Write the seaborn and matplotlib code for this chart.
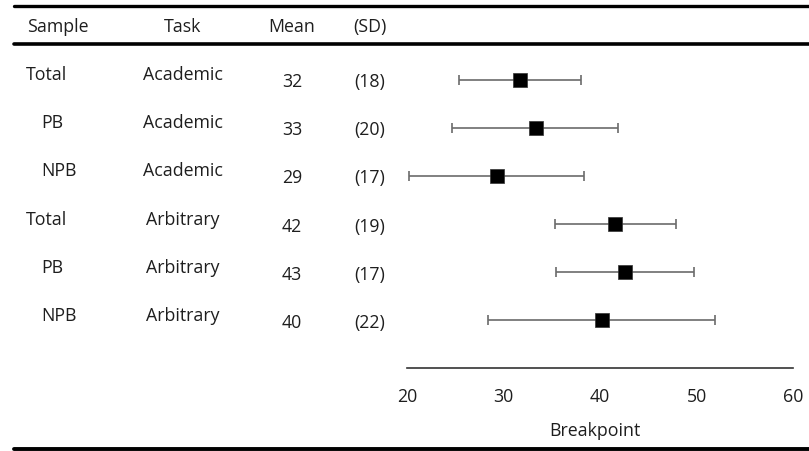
import matplotlib
matplotlib.use("Agg")
import matplotlib.pyplot as plt
import seaborn as sns
import pandas as pd
from matplotlib.lines import Line2D

# Breakpoint estimates per sample and task
samples = ["Total", "PB", "NPB", "Total", "PB", "NPB"]
tasks = ["Academic", "Academic", "Academic", "Arbitrary", "Arbitrary", "Arbitrary"]
means = [31.74, 33.34, 29.30, 41.59, 42.56, 40.18]
sds = [18, 20, 17, 19, 17, 22]
ci_low = [25.42, 24.69, 20.18, 35.30, 35.44, 28.36]
ci_high = [38.00, 41.90, 38.34, 47.88, 49.71, 51.89]
x_ticks = [20, 30, 40, 50, 60]

df = pd.DataFrame({
    "row": range(len(samples)),
    "sample": samples,
    "task": tasks,
    "mean": means,
    "sd": sds,
    "lo": ci_low,
    "hi": ci_high,
})

sns.set_theme(style="white")
plt.rcParams["font.family"] = ["Open Sans", "DejaVu Sans"]

FS = 12.8
TXT = "#1e1e1e"
W, H = 809, 452
fig = plt.figure(figsize=(W / 100, H / 100), dpi=100)


def fx(x):
    return x / W


def fy(y):
    return 1 - y / H


# Forest panel
ax = fig.add_axes([fx(407), fy(369), fx(793) - fx(407), fy(57) - fy(369)])
ax.hlines(df["row"], df["lo"], df["hi"], color="#6b6b6b", lw=1.2, zorder=1)
ax.scatter(df["lo"], df["row"], marker="|", s=45, color="#6b6b6b", lw=1.2, zorder=1)
ax.scatter(df["hi"], df["row"], marker="|", s=45, color="#6b6b6b", lw=1.2, zorder=1)
sns.scatterplot(data=df, x="mean", y="row", marker="s", s=100, color="black",
                edgecolor="#333333", linewidth=0.5, ax=ax, zorder=3, legend=False)
ax.set_xlim(20, 60)
ax.set_ylim(6.0, -0.5)
ax.set_xticks(x_ticks)
ax.set_xticklabels([str(t) for t in x_ticks], fontsize=FS, color=TXT)
ax.set_yticks([])
ax.set_xlabel("")
ax.set_ylabel("")
ax.tick_params(axis="x", length=0, pad=14)
for side in ["top", "right", "left"]:
    ax.spines[side].set_visible(False)
ax.spines["bottom"].set_color("#333333")
ax.spines["bottom"].set_linewidth(1.2)
ax.patch.set_alpha(0)

fig.text(fx(595), fy(431), "Breakpoint", ha="center", va="center", fontsize=FS, color=TXT)

# Table rules
for y, lw in [(6.5, 2.4), (45, 2.6), (449.5, 2.8)]:
    fig.add_artist(Line2D([fx(14), 1.0], [fy(y), fy(y)], color="black", lw=lw,
                          transform=fig.transFigure))

# Header
hdr_y = 27
fig.text(fx(58), fy(hdr_y), "Sample", ha="center", va="center", fontsize=FS, color=TXT)
fig.text(fx(183), fy(hdr_y), "Task", ha="center", va="center", fontsize=FS, color=TXT)
fig.text(fx(292), fy(hdr_y), "Mean", ha="center", va="center", fontsize=FS, color=TXT)
fig.text(fx(370), fy(hdr_y), "(SD)", ha="center", va="center", fontsize=FS, color=TXT)

# Table rows
for i, r in df.iterrows():
    y_lab = 75 + 48.2 * i
    y_num = 82 + 48.2 * i
    x_s = 26 if r["sample"] == "Total" else 41
    fig.text(fx(x_s), fy(y_lab), r["sample"], ha="left", va="center", fontsize=FS, color=TXT)
    fig.text(fx(183), fy(y_lab), r["task"], ha="center", va="center", fontsize=FS, color=TXT)
    fig.text(fx(292), fy(y_num), f"{r['mean']:.0f}", ha="center", va="center", fontsize=FS, color=TXT)
    fig.text(fx(370), fy(y_num), f"({r['sd']})", ha="center", va="center", fontsize=FS, color=TXT)

fig.savefig("out.png", dpi=100, facecolor="white")
